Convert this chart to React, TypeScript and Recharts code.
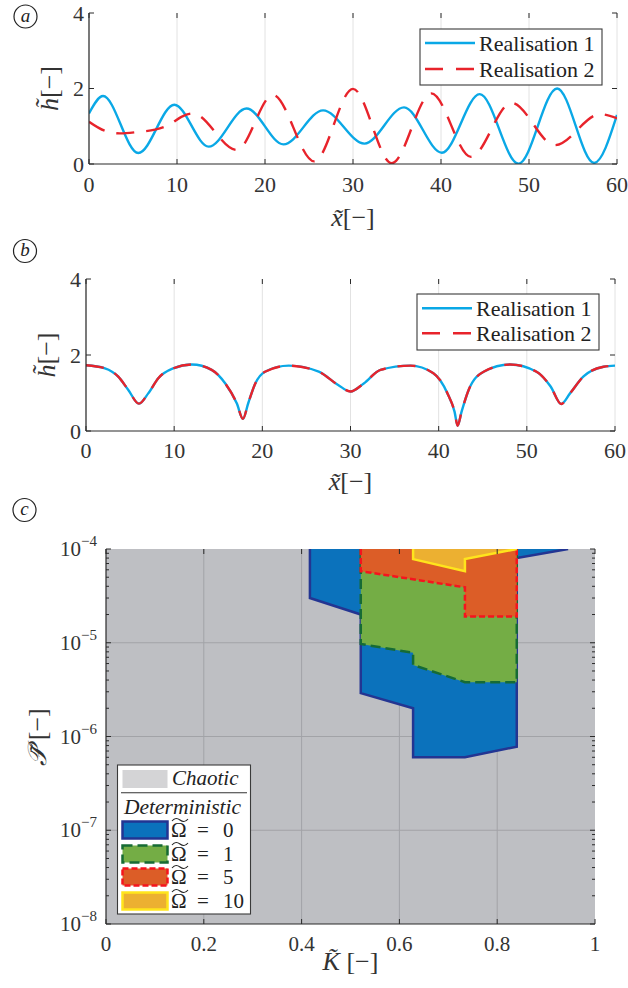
import React from 'react';
import { LineChart, Line, XAxis, YAxis, CartesianGrid, AreaChart, Area } from 'recharts';

// ---------- data ----------
const seriesNames = ['Realisation 1', 'Realisation 2'];
const xTicks = [0, 10, 20, 30, 40, 50, 60];
const hTicks = [0, 2, 4];

// panel (a)
const aRealisation1 = [
  { x: 0, h: 1.34 }, { x: 1.6, h: 1.8 }, { x: 5.6, h: 0.29 }, { x: 9.7, h: 1.57 },
  { x: 13.6, h: 0.46 }, { x: 17.9, h: 1.47 }, { x: 22.1, h: 0.52 }, { x: 26.6, h: 1.42 },
  { x: 31.3, h: 0.54 }, { x: 35.8, h: 1.5 }, { x: 40.1, h: 0.3 }, { x: 44.4, h: 1.85 },
  { x: 48.8, h: 0.01 }, { x: 53.2, h: 2.0 }, { x: 57.4, h: 0.03 }, { x: 60, h: 1.3 },
];
const aRealisation2 = [
  { x: 0, h: 1.12 }, { x: 1.8, h: 0.88 }, { x: 3.5, h: 0.81 }, { x: 5.6, h: 0.85 },
  { x: 7.5, h: 0.91 }, { x: 9.2, h: 1.05 }, { x: 10.5, h: 1.25 }, { x: 11.8, h: 1.34 },
  { x: 16.8, h: 0.37 }, { x: 20.9, h: 1.83 }, { x: 25.6, h: 0.07 }, { x: 30.0, h: 1.99 },
  { x: 34.4, h: 0.02 }, { x: 38.9, h: 1.87 }, { x: 43.4, h: 0.19 }, { x: 48.0, h: 1.62 },
  { x: 52.95, h: 0.5 }, { x: 58.1, h: 1.32 }, { x: 60, h: 1.21 },
];

// panel (b) – both realisations coincide
const bRealisation1 = [
  { x: 0, h: 1.73 }, { x: 2.15, h: 1.65 }, { x: 3.66, h: 1.43 }, { x: 4.8, h: 1.08 },
  { x: 6.0, h: 0.72 }, { x: 7.06, h: 0.99 }, { x: 8.2, h: 1.39 }, { x: 9.9, h: 1.65 },
  { x: 12.0, h: 1.75 }, { x: 14.25, h: 1.61 }, { x: 15.8, h: 1.25 }, { x: 17.1, h: 0.73 },
  { x: 17.8, h: 0.32 }, { x: 18.4, h: 0.73 }, { x: 19.2, h: 1.25 }, { x: 20.3, h: 1.56 },
  { x: 23.0, h: 1.72 }, { x: 26.4, h: 1.56 }, { x: 28.6, h: 1.21 }, { x: 30.0, h: 1.04 },
  { x: 31.5, h: 1.25 }, { x: 33.4, h: 1.61 }, { x: 36.8, h: 1.72 }, { x: 39.4, h: 1.52 },
  { x: 41.0, h: 0.99 }, { x: 41.8, h: 0.51 }, { x: 42.15, h: 0.14 }, { x: 42.6, h: 0.51 },
  { x: 43.4, h: 1.08 }, { x: 45.1, h: 1.56 }, { x: 48.1, h: 1.75 }, { x: 51.1, h: 1.56 },
  { x: 52.7, h: 1.17 }, { x: 53.9, h: 0.71 }, { x: 54.9, h: 0.99 }, { x: 56.4, h: 1.43 },
  { x: 58.7, h: 1.69 }, { x: 60, h: 1.72 },
];
const bRealisation2 = bRealisation1.map((d) => ({ ...d }));

// panel (c)
const kTicks = [0, 0.2, 0.4, 0.6, 0.8, 1];
const pDecades = [-8, -7, -6, -5, -4];
const pMinorMultipliers = [2, 3, 4, 5, 6, 7, 8, 9];
const pMajorTicks = pDecades.map((e) => Math.pow(10, e));
const pAllTicks = [
  ...pMajorTicks,
  ...pDecades.slice(0, -1).flatMap((e) => pMinorMultipliers.map((m) => m * Math.pow(10, e))),
].sort((a, b) => a - b);

const omega0 = [
  { k: 0.417, p: 1e-4 }, { k: 0.417, p: 3.0e-5 }, { k: 0.521, p: 2.0e-5 }, { k: 0.521, p: 2.9e-6 },
  { k: 0.628, p: 2.0e-6 }, { k: 0.628, p: 6.0e-7 }, { k: 0.734, p: 6.0e-7 }, { k: 0.84, p: 7.8e-7 },
  { k: 0.84, p: 8.0e-5 }, { k: 0.945, p: 1e-4 },
];
const omega1 = [
  { k: 0.521, p: 1e-4 }, { k: 0.521, p: 9.7e-6 }, { k: 0.628, p: 7.8e-6 }, { k: 0.628, p: 5.8e-6 },
  { k: 0.734, p: 3.8e-6 }, { k: 0.84, p: 3.8e-6 }, { k: 0.84, p: 1e-4 },
];
const omega5 = [
  { k: 0.521, p: 1e-4 }, { k: 0.521, p: 5.8e-5 }, { k: 0.734, p: 3.9e-5 }, { k: 0.734, p: 1.9e-5 },
  { k: 0.84, p: 1.9e-5 }, { k: 0.84, p: 1e-4 },
];
const omega10 = [
  { k: 0.628, p: 1e-4 }, { k: 0.628, p: 7.8e-5 }, { k: 0.734, p: 5.8e-5 }, { k: 0.734, p: 7.8e-5 },
  { k: 0.84, p: 1e-4 },
];
const omegaLabels = ['0', '1', '5', '10'];

// ---------- styles ----------
const FONT = 'Liberation Serif, DejaVu Serif, Times New Roman, serif';
const TXT = '#333333';
const AXIS = '#2a2a2a';
const BLUE = '#0aa8e6';
const RED = '#e8232b';
const RED_DASH = '18 12';

const regionStyles = [
  { fill: '#0b72bc', stroke: '#233592', dash: undefined as string | undefined },
  { fill: '#74ad45', stroke: '#166b35', dash: '10 5' },
  { fill: '#dc5d27', stroke: '#f5141e', dash: '6 3' },
  { fill: '#ecb031', stroke: '#ffe51c', dash: undefined as string | undefined },
];

const T = (p: any) => <text {...p} style={{ fontFamily: FONT, ...(p.style || {}) }} />;

const makeXTick = (plotTop: number, fontSize: number, dy: number) => (props: any) => {
  const { x, y, payload } = props;
  return (
    <g>
      <line x1={x} x2={x} y1={y} y2={y - 5} stroke={AXIS} strokeWidth={1} />
      <line x1={x} x2={x} y1={plotTop} y2={plotTop + 5} stroke={AXIS} strokeWidth={1} />
      <T x={x} y={y + dy} textAnchor="middle" fontSize={fontSize} fill={TXT}>
        {String(payload.value)}
      </T>
    </g>
  );
};

const makeYTick = (plotRight: number, fontSize: number) => (props: any) => {
  const { x, y, payload } = props;
  return (
    <g>
      <line x1={x} x2={x + 5} y1={y} y2={y} stroke={AXIS} strokeWidth={1} />
      <line x1={plotRight} x2={plotRight - 5} y1={y} y2={y} stroke={AXIS} strokeWidth={1} />
      <T x={x - 5} y={y + 7.5} textAnchor="end" fontSize={fontSize} fill={TXT}>
        {String(payload.value)}
      </T>
    </g>
  );
};

const makeLogTick = (plotRight: number) => (props: any) => {
  const { x, y, payload } = props;
  const lv = Math.log10(payload.value);
  const e = Math.round(lv);
  const major = Math.abs(lv - e) < 1e-6;
  const len = major ? 5 : 3;
  return (
    <g>
      <line x1={x} x2={x + len} y1={y} y2={y} stroke={AXIS} strokeWidth={1} />
      <line x1={plotRight} x2={plotRight - len} y1={y} y2={y} stroke={AXIS} strokeWidth={1} />
      {major && (
        <T x={x - 9} y={y + 7} textAnchor="end" fontSize={21} fill={TXT}>
          <tspan>10</tspan>
          <tspan dy={-10} fontSize={15}>{'\u2212' + String(-e)}</tspan>
        </T>
      )}
    </g>
  );
};

function HPanel({ data1, data2, top, height, margin, plotTop, plotRight, dy }: any) {
  return (
    <div style={{ position: 'absolute', left: 0, top }}>
      <LineChart width={628} height={height} margin={margin}>
        <CartesianGrid horizontal={false} vertical stroke="#e2e2e2" strokeWidth={1} />
        <XAxis
          type="number"
          dataKey="x"
          domain={[0, 60]}
          ticks={xTicks}
          interval={0}
          allowDataOverflow
          height={40}
          tickSize={0}
          tickMargin={0}
          axisLine={{ stroke: AXIS, strokeWidth: 1.2 }}
          tickLine={false}
          tick={makeXTick(plotTop, 22, dy)}
        />
        <XAxis xAxisId="top" orientation="top" type="number" domain={[0, 60]} height={0} tick={false} tickLine={false} axisLine={{ stroke: AXIS, strokeWidth: 1.2 }} />
        <YAxis
          type="number"
          domain={[0, 4]}
          ticks={hTicks}
          interval={0}
          allowDataOverflow
          width={60}
          tickSize={0}
          tickMargin={0}
          axisLine={{ stroke: AXIS, strokeWidth: 1.2 }}
          tickLine={false}
          tick={makeYTick(plotRight, 22)}
        />
        <YAxis yAxisId="right" orientation="right" type="number" domain={[0, 4]} width={0} tick={false} tickLine={false} axisLine={{ stroke: AXIS, strokeWidth: 1.2 }} />
        <Line data={data1} dataKey="h" name={seriesNames[0]} type="monotone" stroke={BLUE} strokeWidth={2.4} dot={false} isAnimationActive={false} />
        <Line data={data2} dataKey="h" name={seriesNames[1]} type="monotone" stroke={RED} strokeWidth={2.4} strokeDasharray={RED_DASH} dot={false} isAnimationActive={false} />
      </LineChart>
    </div>
  );
}

function LineLegend({ x, y, w, h, row1, row2 }: any) {
  return (
    <g>
      <rect x={x} y={y} width={w} height={h} fill="#ffffff" stroke="#3a3a3a" strokeWidth={1.1} />
      <line x1={x + 5} x2={x + 55} y1={row1} y2={row1} stroke={BLUE} strokeWidth={2.4} />
      <line x1={x + 5} x2={x + 55} y1={row2} y2={row2} stroke={RED} strokeWidth={2.4} strokeDasharray="18 13" />
      <T x={x + 59} y={row1 + 7.5} fontSize={22} fill="#222">{seriesNames[0]}</T>
      <T x={x + 59} y={row2 + 7.5} fontSize={22} fill="#222">{seriesNames[1]}</T>
    </g>
  );
}

function Circled({ cx, cy, letter }: any) {
  return (
    <g>
      <circle cx={cx} cy={cy} r={11.5} fill="none" stroke="#222" strokeWidth={1.2} />
      <T x={cx} y={cy + 5} textAnchor="middle" fontStyle="italic" fontSize={19} fill="#222">{letter}</T>
    </g>
  );
}

function OmegaTilde({ x, y }: any) {
  // Ω with a wide tilde above
  return (
    <g>
      <T x={x} y={y} fontSize={21} fill="#222">Ω</T>
      <path d={`M ${x + 1} ${y - 16} q 3.5 -4.5 8 -1 q 4.5 3.5 8 -1`} fill="none" stroke="#222" strokeWidth={1.1} />
    </g>
  );
}

export default function App() {
  const omegaSeries = [omega0, omega1, omega5, omega10];
  const legendRows = [830, 854, 877, 901];
  return (
    <div style={{ position: 'absolute', left: 0, top: 0, width: 628, height: 988, background: '#fff', fontFamily: FONT }}>
      <HPanel data1={aRealisation1} data2={aRealisation2} top={0} height={240}
        margin={{ top: 13, right: 11, left: 29, bottom: 36 }} plotTop={13} plotRight={617} dy={28} />
      <HPanel data1={bRealisation1} data2={bRealisation2} top={240} height={260}
        margin={{ top: 39, right: 13, left: 26, bottom: 29 }} plotTop={39} plotRight={615} dy={27} />

      <div style={{ position: 'absolute', left: 0, top: 500 }}>
        <AreaChart width={628} height={488} margin={{ top: 49, right: 33, left: 36, bottom: 24 }}>
          <CartesianGrid
            fill="#bebfc3"
            stroke="#a2a3a7"
            strokeWidth={1}
            horizontalValues={[1e-7, 1e-6, 1e-5]}
            verticalValues={[0.2, 0.4, 0.6, 0.8]}
          />
          <XAxis
            type="number"
            dataKey="k"
            domain={[0, 1]}
            ticks={kTicks}
            interval={0}
            allowDataOverflow
            height={40}
            tickSize={0}
            tickMargin={0}
            axisLine={{ stroke: AXIS, strokeWidth: 1.2 }}
            tickLine={false}
            tick={makeXTick(49, 21, 27)}
          />
          <XAxis xAxisId="top" orientation="top" type="number" domain={[0, 1]} height={0} tick={false} tickLine={false} axisLine={{ stroke: AXIS, strokeWidth: 1.2 }} />
          <YAxis
            type="number"
            scale="log"
            domain={[1e-8, 1e-4]}
            ticks={pAllTicks}
            interval={0}
            allowDataOverflow
            width={70}
            tickSize={0}
            tickMargin={0}
            axisLine={{ stroke: AXIS, strokeWidth: 1.2 }}
            tickLine={false}
            tick={makeLogTick(595)}
          />
          <YAxis yAxisId="right" orientation="right" type="number" scale="log" domain={[1e-8, 1e-4]} width={0} tick={false} tickLine={false} axisLine={{ stroke: AXIS, strokeWidth: 1.2 }} />
          {omegaSeries.map((d, i) => (
            <Area
              key={i}
              data={d}
              dataKey="p"
              type="linear"
              baseValue={1e-4}
              fill={regionStyles[i].fill}
              fillOpacity={1}
              stroke={regionStyles[i].stroke}
              strokeWidth={2.5}
              strokeDasharray={regionStyles[i].dash}
              dot={false}
              activeDot={false}
              isAnimationActive={false}
            />
          ))}
        </AreaChart>
      </div>

      <svg width={628} height={988} style={{ position: 'absolute', left: 0, top: 0, pointerEvents: 'none' }}>
        <Circled cx={25.5} cy={16.5} letter="a" />
        <Circled cx={25} cy={251} letter="b" />
        <Circled cx={24.5} cy={510} letter="c" />

        <LineLegend x={420} y={29} w={182} h={56} row1={43} row2={69} />
        <LineLegend x={417} y={294} w={182} h={56} row1={308.3} row2={333.3} />

        {/* axis titles */}
        <T transform="rotate(-90 58 88.5)" x={58} y={88.5} textAnchor="middle" fontSize={26} fill={TXT}>
          <tspan fontStyle="italic">h̃</tspan><tspan>[−]</tspan>
        </T>
        <T x={353} y={226} textAnchor="middle" fontSize={26} fill={TXT}>
          <tspan fontStyle="italic">x̃</tspan><tspan>[−]</tspan>
        </T>
        <T transform="rotate(-90 55 355)" x={55} y={355} textAnchor="middle" fontSize={26} fill={TXT}>
          <tspan fontStyle="italic">h̃</tspan><tspan>[−]</tspan>
        </T>
        <T x={350.5} y={490} textAnchor="middle" fontSize={26} fill={TXT}>
          <tspan fontStyle="italic">x̃</tspan><tspan>[−]</tspan>
        </T>
        <T transform="rotate(-90 46 737)" x={46} y={737} textAnchor="middle" fontSize={26} fill={TXT}>
          <tspan style={{ fontFamily: 'DejaVu Serif, DejaVu Sans, serif' }} fontStyle="italic">𝒫̃</tspan><tspan> [−]</tspan>
        </T>
        <T x={350.5} y={970} textAnchor="middle" fontSize={26} fill={TXT}>
          <tspan fontStyle="italic">K̃</tspan><tspan> [−]</tspan>
        </T>

        {/* panel (c) legend */}
        <rect x={117.5} y={765} width={133} height={149} fill="#ffffff" stroke="#3a3a3a" strokeWidth={1.1} />
        <rect x={122.5} y={770} width={45} height={18} fill="#d4d4d6" />
        <T x={172} y={785} fontStyle="italic" fontSize={21} fill="#222">Chaotic</T>
        <line x1={121} x2={247} y1={792.7} y2={792.7} stroke="#333" strokeWidth={1.1} />
        <T x={124} y={814} fontStyle="italic" fontSize={21.5} fill="#222">Deterministic</T>
        {legendRows.map((cy, i) => (
          <g key={i}>
            <rect x={122.5} y={cy - 8.5} width={45} height={17} fill={regionStyles[i].fill}
              stroke={regionStyles[i].stroke} strokeWidth={2.5} strokeDasharray={regionStyles[i].dash} />
            <OmegaTilde x={171} y={cy + 7} />
            <T x={197} y={cy + 7} fontSize={21} fill="#222">=</T>
            <T x={223} y={cy + 7} fontSize={21} fill="#222">{omegaLabels[i]}</T>
          </g>
        ))}
      </svg>
    </div>
  );
}
